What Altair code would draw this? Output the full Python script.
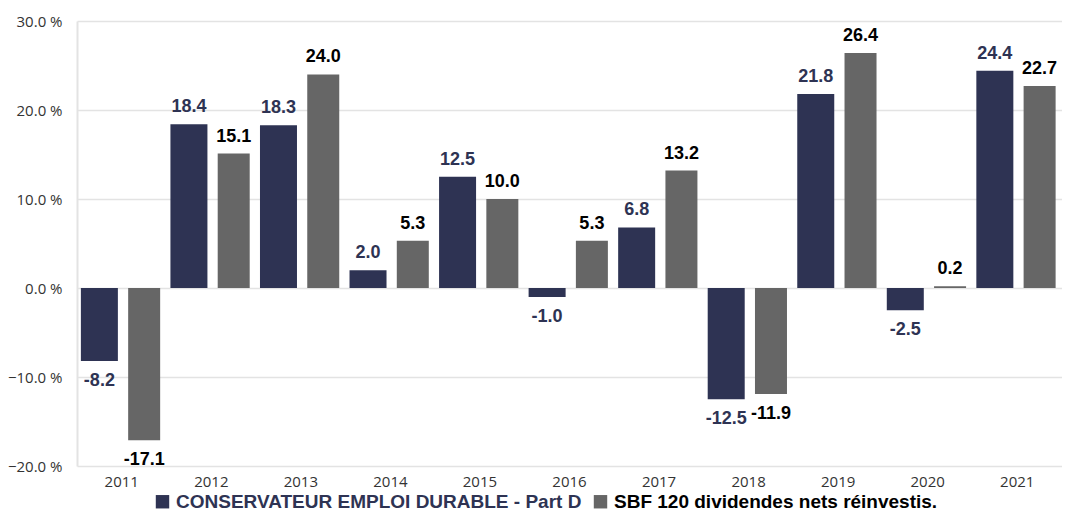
import altair as alt
import pandas as pd

years = ["2011", "2012", "2013", "2014", "2015", "2016", "2017", "2018", "2019", "2020", "2021"]
series_names = ["CONSERVATEUR EMPLOI DURABLE - Part D", "SBF 120 dividendes nets réinvestis."]
fund = [-8.2, 18.4, 18.3, 2.0, 12.5, -1.0, 6.8, -12.5, 21.8, -2.5, 24.4]
index = [-17.1, 15.1, 24.0, 5.3, 10.0, 5.3, 13.2, -11.9, 26.4, 0.2, 22.7]

bar_colors = ["#2e3353", "#666666"]
label_colors = ["#2e3353", "#000000"]

rows = []
for i, y in enumerate(years):
    rows.append({"year": y, "series": series_names[0], "value": fund[i]})
    rows.append({"year": y, "series": series_names[1], "value": index[i]})
df = pd.DataFrame(rows)
df["label"] = df["value"].map(lambda v: f"{v:.1f}")

x_enc = alt.X("year:N", sort=years, title=None,
              scale=alt.Scale(paddingInner=0, paddingOuter=0),
              axis=alt.Axis(labelAngle=0, ticks=False, domain=False, labelPadding=8,
                            labelFont="Open Sans", labelFontSize=15, labelColor="#333333"))
xoff = alt.XOffset("series:N", sort=series_names,
                   scale=alt.Scale(domain=series_names, paddingInner=0, paddingOuter=0))
y_scale = alt.Scale(domain=[-20, 30], nice=False)

base = alt.Chart(df)

y_enc = alt.Y("value:Q", scale=y_scale, title=None,
              axis=alt.Axis(values=[-20, -10, 0, 10, 20, 30], labelExpr="format(datum.value, '.1f') + ' %'",
                            ticks=False, domain=True, domainColor="#e3e3e3", domainWidth=2,
                            gridColor="#e3e3e3", gridWidth=1.5, labelPadding=15,
                            labelFont="Open Sans", labelFontSize=15, labelColor="#333333"))

color_enc = alt.Color("series:N", sort=series_names,
                      scale=alt.Scale(domain=series_names, range=bar_colors),
                      legend=alt.Legend(title=None, orient="none", legendX=76, legendY=471,
                                        direction="horizontal", symbolType="square", symbolSize=180,
                                        symbolStrokeWidth=0, labelFont="Liberation Sans",
                                        labelFontWeight="bold", labelFontSize=19, labelOffset=4,
                                        columnPadding=9, labelLimit=600, padding=0,
                                        labelColor=alt.ExprRef("datum.label == 'SBF 120 dividendes nets réinvestis.' ? '#000000' : '#2e3353'")))

bars_fund = base.transform_filter(alt.datum.series == series_names[0]).mark_bar(width=37).encode(
    x=x_enc, xOffset=xoff, y=y_enc, color=color_enc)
bars_index = base.transform_filter(alt.datum.series == series_names[1]).mark_bar(width=32).encode(
    x=x_enc, xOffset=xoff, y=y_enc, color=color_enc)

label_color = alt.Color("series:N", scale=alt.Scale(domain=series_names, range=label_colors), legend=None)

pos_text = base.transform_filter("datum.value >= 0").mark_text(
    baseline="alphabetic", dy=-12, font="Liberation Sans", fontWeight="bold", fontSize=18
).encode(x=x_enc, xOffset=xoff, y=alt.Y("value:Q", scale=y_scale), text="label:N", color=label_color)

neg_text = base.transform_filter("datum.value < 0").mark_text(
    baseline="top", dy=11, font="Liberation Sans", fontWeight="bold", fontSize=18
).encode(x=x_enc, xOffset=xoff, y=alt.Y("value:Q", scale=y_scale), text="label:N", color=label_color)

bars = alt.layer(bars_fund, bars_index)
texts = alt.layer(pos_text, neg_text)

chart = alt.layer(bars, texts).resolve_scale(color="independent").properties(
    width=985, height=445,
    autosize=alt.AutoSizeParams(type="none"),
    padding={"left": 69, "top": 13, "right": 0, "bottom": 46},
).configure_view(stroke=None)

chart.save("out.html", embed_options={"renderer": "svg", "actions": False})
